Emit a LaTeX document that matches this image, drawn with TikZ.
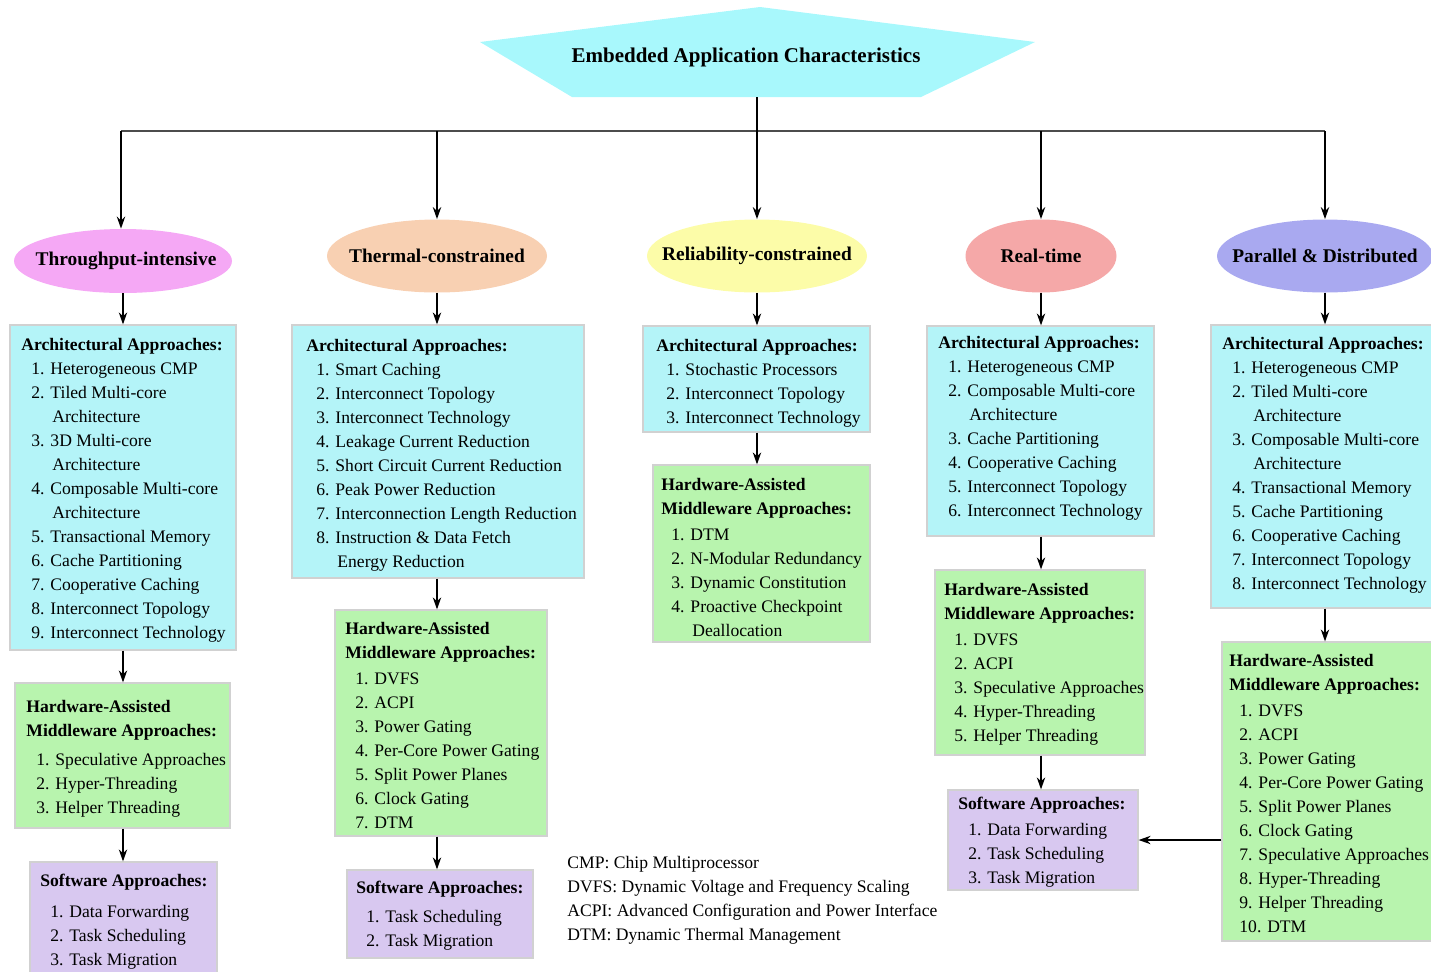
\documentclass[tikz,border=0pt]{standalone}
\usepackage{fontspec}
\setmainfont{Liberation Serif}
\usetikzlibrary{shapes.geometric,arrows.meta,fit}

\definecolor{topfill}{HTML}{A8F8FC}
\definecolor{archfill}{HTML}{B4F4F8}
\definecolor{hwfill}{HTML}{B8F4AE}
\definecolor{swfill}{HTML}{D8C8F0}
\definecolor{tpfill}{HTML}{F5A8F5}
\definecolor{thfill}{HTML}{F8D0B2}
\definecolor{relfill}{HTML}{FCFCA8}
\definecolor{rtfill}{HTML}{F5A8A8}
\definecolor{pdfill}{HTML}{A9A9F0}

\newcommand{\itemline}[1]{\hspace*{5pt}#1}
\newcommand{\contline}[1]{\hspace*{15.5pt}#1}

\begin{document}
\begin{tikzpicture}[x=0.5pt,y=-0.5pt,
  box/.style={draw=black!18,line width=0.6pt,inner sep=0pt},
  archbox/.style={box,fill=archfill},
  hwbox/.style={box,fill=hwfill},
  swbox/.style={box,fill=swfill},
  txt/.style={anchor=north west,inner sep=0pt,align=left,font=\fontsize{8.8}{12}\selectfont},
  kind/.style={ellipse,inner sep=0pt,minimum height=36.5pt},
  lab/.style={font=\bfseries\fontsize{9.7}{11}\selectfont},
  arr/.style={-{Stealth[length=6pt,width=4.2pt]},line width=0.7pt}]
\useasboundingbox (0,0) rectangle (1431,971);

\fill[topfill] (760,7) -- (1035,42) -- (921,97) -- (572,97) -- (480,42) -- cycle;
\node[font=\bfseries\fontsize{10.5}{12}\selectfont] (top) at (746,57) {Embedded Application Characteristics};
\coordinate (stem) at (757,97);
\coordinate (busl) at (121,131);
\coordinate (busr) at (1325,131);

\node[kind,fill=tpfill,minimum width=109pt,minimum height=32pt] (c1) at (123,261) {};
\node[kind,fill=thfill,minimum width=110pt] (c2) at (437,256) {};
\node[kind,fill=relfill,minimum width=110pt] (c3) at (757,256) {};
\node[kind,fill=rtfill,minimum width=75.5pt] (c4) at (1041,256) {};
\node[kind,fill=pdfill,minimum width=108pt] (c5) at (1325,256) {};
\node[lab] at ([xshift=1.5pt]c1) {Throughput-intensive};
\node[lab] at (c2) {Thermal-constrained};
\node[lab] at (c3) {Reliability-constrained};
\node[lab] at (c4) {Real-time};
\node[lab] at (c5) {Parallel \& Distributed};

\draw[line width=1.2pt,black!70] (busl) -- (busr);
\draw[arr] (stem) -- (c3);
\foreach \c in {c2,c4,c5}
  \draw[arr] (\c |- busl) -- (\c);
\draw[arr] (busl) -- (busl |- c1.north);

\node[archbox,fit={(10,325) (236,650)}] (a1) {};
\node[hwbox,fit={(15,683) (230,828)}] (h1) {};
\node[swbox,fit={(30,862) (217,990)}] (s1) {};
\node[archbox,fit={(292,325) (584,578)}] (a2) {};
\node[hwbox,fit={(335,610) (547,836)}] (h2) {};
\node[swbox,fit={(347,870) (533,958)}] (s2) {};
\node[archbox,fit={(643,326) (870,432)}] (a3) {};
\node[hwbox,fit={(653,465) (870,642)}] (h3) {};
\node[archbox,fit={(927,326) (1154,536)}] (a4) {};
\node[hwbox,fit={(935,570) (1145,755)}] (h4) {};
\node[swbox,fit={(948,790) (1138,890)}] (s4) {};
\node[archbox,fit={(1211,325) (1445,608)}] (a5) {};
\node[hwbox,fit={(1222,642) (1445,941)}] (h5) {};

\draw[arr] (c1) -- (c1 |- a1.north);
\draw[arr] (a1.south -| c1) -- (h1.north -| c1);
\draw[arr] (h1.south -| c1) -- (s1.north -| c1);
\draw[arr] (c2) -- (c2 |- a2.north);
\draw[arr] (a2.south -| c2) -- (h2.north -| c2);
\draw[arr] (h2.south -| c2) -- (s2.north -| c2);
\draw[arr] (c3) -- (c3 |- a3.north);
\draw[arr] (a3.south -| c3) -- (h3.north -| c3);
\draw[arr] (c4) -- (c4 |- a4.north);
\draw[arr] (a4.south -| c4) -- (h4.north -| c4);
\draw[arr] (h4.south -| c4) -- (s4.north -| c4);
\draw[arr] (c5) -- (c5 |- a5.north);
\draw[arr] (a5.south -| c5) -- (h5.north -| c5);
\draw[arr] (h5.west |- s4) -- (s4.east);

\node[txt] (a1t) at (21,338) {\textbf{Architectural Approaches:}\\
\itemline{1. Heterogeneous CMP}\\
\itemline{2. Tiled Multi-core}\\
\contline{Architecture}\\
\itemline{3. 3D Multi-core}\\
\contline{Architecture}\\
\itemline{4. Composable Multi-core}\\
\contline{Architecture}\\
\itemline{5. Transactional Memory}\\
\itemline{6. Cache Partitioning}\\
\itemline{7. Cooperative Caching}\\
\itemline{8. Interconnect Topology}\\
\itemline{9. Interconnect Technology}};
\node[txt] (h1t) at (26,700) {\textbf{Hardware-Assisted}\\
\textbf{Middleware Approaches:}\\[2.5pt]
\itemline{1. Speculative Approaches}\\
\itemline{2. Hyper-Threading}\\
\itemline{3. Helper Threading}};
\node[txt] (s1t) at (40,874) {\textbf{Software Approaches:}\\[3.5pt]
\itemline{1. Data Forwarding}\\
\itemline{2. Task Scheduling}\\
\itemline{3. Task Migration}};

\node[txt] (a2t) at (306,339) {\textbf{Architectural Approaches:}\\
\itemline{1. Smart Caching}\\
\itemline{2. Interconnect Topology}\\
\itemline{3. Interconnect Technology}\\
\itemline{4. Leakage Current Reduction}\\
\itemline{5. Short Circuit Current Reduction}\\
\itemline{6. Peak Power Reduction}\\
\itemline{7. Interconnection Length Reduction}\\
\itemline{8. Instruction \& Data Fetch}\\
\contline{Energy Reduction}};
\node[txt] (h2t) at (345,622) {\textbf{Hardware-Assisted}\\
\textbf{Middleware Approaches:}\\[1pt]
\itemline{1. DVFS}\\
\itemline{2. ACPI}\\
\itemline{3. Power Gating}\\
\itemline{4. Per-Core Power Gating}\\
\itemline{5. Split Power Planes}\\
\itemline{6. Clock Gating}\\
\itemline{7. DTM}};
\node[txt] (s2t) at (356,881) {\textbf{Software Approaches:}\\[2.5pt]
\itemline{1. Task Scheduling}\\
\itemline{2. Task Migration}};

\node[txt] (a3t) at (656,339) {\textbf{Architectural Approaches:}\\
\itemline{1. Stochastic Processors}\\
\itemline{2. Interconnect Topology}\\
\itemline{3. Interconnect Technology}};
\node[txt] (h3t) at (661,478) {\textbf{Hardware-Assisted}\\
\textbf{Middleware Approaches:}\\[1pt]
\itemline{1. DTM}\\
\itemline{2. N-Modular Redundancy}\\
\itemline{3. Dynamic Constitution}\\
\itemline{4. Proactive Checkpoint}\\
\contline{Deallocation}};

\node[txt] (a4t) at (938,336) {\textbf{Architectural Approaches:}\\
\itemline{1. Heterogeneous CMP}\\
\itemline{2. Composable Multi-core}\\
\contline{Architecture}\\
\itemline{3. Cache Partitioning}\\
\itemline{4. Cooperative Caching}\\
\itemline{5. Interconnect Topology}\\
\itemline{6. Interconnect Technology}};
\node[txt] (h4t) at (944,583) {\textbf{Hardware-Assisted}\\
\textbf{Middleware Approaches:}\\[1pt]
\itemline{1. DVFS}\\
\itemline{2. ACPI}\\
\itemline{3. Speculative Approaches}\\
\itemline{4. Hyper-Threading}\\
\itemline{5. Helper Threading}};
\node[txt] (s4t) at (958,797) {\textbf{Software Approaches:}\\[1pt]
\itemline{1. Data Forwarding}\\
\itemline{2. Task Scheduling}\\
\itemline{3. Task Migration}};

\node[txt] (a5t) at (1222,337) {\textbf{Architectural Approaches:}\\
\itemline{1. Heterogeneous CMP}\\
\itemline{2. Tiled Multi-core}\\
\contline{Architecture}\\
\itemline{3. Composable Multi-core}\\
\contline{Architecture}\\
\itemline{4. Transactional Memory}\\
\itemline{5. Cache Partitioning}\\
\itemline{6. Cooperative Caching}\\
\itemline{7. Interconnect Topology}\\
\itemline{8. Interconnect Technology}};
\node[txt] (h5t) at (1229,654) {\textbf{Hardware-Assisted}\\
\textbf{Middleware Approaches:}\\[1pt]
\itemline{1. DVFS}\\
\itemline{2. ACPI}\\
\itemline{3. Power Gating}\\
\itemline{4. Per-Core Power Gating}\\
\itemline{5. Split Power Planes}\\
\itemline{6. Clock Gating}\\
\itemline{7. Speculative Approaches}\\
\itemline{8. Hyper-Threading}\\
\itemline{9. Helper Threading}\\
\itemline{10. DTM}};

\node[txt] (legend) at (567,856) {CMP: Chip Multiprocessor\\
DVFS: Dynamic Voltage and Frequency Scaling\\
ACPI: Advanced Configuration and Power Interface\\
DTM: Dynamic Thermal Management};
\end{tikzpicture}
\end{document}
